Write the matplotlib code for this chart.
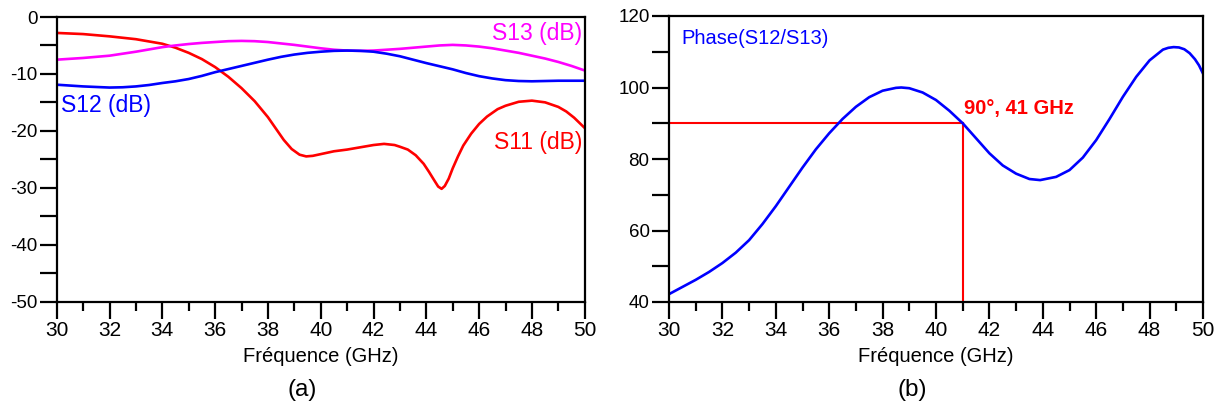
import matplotlib
matplotlib.use("Agg")
import matplotlib.pyplot as plt
from matplotlib.ticker import MultipleLocator

plt.rcParams['font.family'] = ['Liberation Sans', 'DejaVu Sans']
plt.rcParams['axes.unicode_minus'] = False

# ---- data (a) ----
f_s11 = [30, 31, 32, 33, 34, 34.5, 35, 35.5, 36, 36.5, 37, 37.5, 38, 38.3, 38.6,
         38.9, 39.2, 39.45, 39.7, 40, 40.5, 41, 41.5, 42, 42.4, 42.8, 43, 43.3,
         43.6, 43.9, 44.1, 44.3, 44.45, 44.58, 44.7, 44.85, 45.0, 45.2, 45.4, 45.7,
         46.0, 46.3, 46.7, 47.0, 47.5, 48.0, 48.5, 49.0, 49.3, 49.6, 50]
s11 = [-2.8, -3.0, -3.4, -3.9, -4.7, -5.4, -6.3, -7.4, -8.8, -10.5, -12.5, -14.8,
       -17.6, -19.6, -21.6, -23.2, -24.2, -24.5, -24.4, -24.1, -23.6, -23.3, -22.9,
       -22.5, -22.3, -22.5, -22.8, -23.3, -24.3, -25.8, -27.2, -28.7, -29.8, -30.2,
       -29.7, -28.4, -26.6, -24.5, -22.6, -20.5, -18.8, -17.5, -16.2, -15.6, -14.9,
       -14.7, -15.0, -15.8, -16.6, -17.7, -19.5]

f_s = [30, 30.5, 31, 31.5, 32, 32.5, 33, 33.5, 34, 34.5, 35, 35.5, 36, 36.5, 37,
       37.5, 38, 38.5, 39, 39.5, 40, 40.5, 41, 41.5, 42, 42.5, 43, 43.5, 44, 44.5,
       45, 45.5, 46, 46.5, 47, 47.5, 48, 48.5, 49, 49.5, 50]
s13 = [-7.5, -7.35, -7.2, -7.0, -6.8, -6.45, -6.1, -5.7, -5.3, -5.0, -4.75, -4.55,
       -4.4, -4.25, -4.2, -4.25, -4.4, -4.65, -4.9, -5.2, -5.5, -5.75, -5.9, -5.95,
       -5.9, -5.75, -5.6, -5.4, -5.2, -5.0, -4.9, -5.0, -5.2, -5.5, -5.9, -6.3,
       -6.8, -7.3, -7.9, -8.6, -9.4]
s12 = [-11.9, -12.05, -12.2, -12.3, -12.4, -12.35, -12.2, -11.95, -11.6, -11.3,
       -10.9, -10.35, -9.7, -9.15, -8.6, -8.05, -7.5, -7.0, -6.6, -6.3, -6.1, -5.95,
       -5.9, -5.95, -6.1, -6.45, -6.9, -7.5, -8.1, -8.65, -9.2, -9.85, -10.4, -10.8,
       -11.1, -11.25, -11.3, -11.25, -11.2, -11.2, -11.2]

# ---- data (b) ----
f_ph = [30, 30.5, 31, 31.5, 32, 32.5, 33, 33.5, 34, 34.5, 35, 35.5, 36, 36.5, 37,
        37.5, 38, 38.5, 38.7, 39, 39.5, 40, 40.5, 41, 41.5, 42, 42.5, 43, 43.5,
        43.9, 44.5, 45, 45.5, 46, 46.5, 47, 47.5, 48, 48.5, 48.7, 48.9, 49.1, 49.3,
        49.5, 49.7, 49.85, 50]
phase = [42.2, 44.2, 46.2, 48.4, 50.9, 53.8, 57.3, 61.8, 66.8, 72.2, 77.6, 82.7,
         87.2, 91.2, 94.6, 97.3, 99.1, 99.9, 100.0, 99.8, 98.6, 96.5, 93.5, 90.0,
         85.8, 81.6, 78.2, 75.9, 74.4, 74.1, 75.0, 76.9, 80.4, 85.3, 91.2, 97.4,
         103.0, 107.6, 110.6, 111.1, 111.3, 111.2, 110.7, 109.6, 107.9, 106.2, 103.9]
mark_f = 41
mark_ph = 90

W, H = 1218, 409
fig = plt.figure(figsize=(W / 100, H / 100), dpi=100)

axL = fig.add_axes([56.7 / W, 1 - 301.5 / H, 528 / W, 284.5 / H])
axR = fig.add_axes([669 / W, 1 - 302 / H, 534 / W, 286 / H])


def style(ax, ymin, ymax, ymaj, ymin_step):
    ax.set_xlim(30, 50)
    ax.set_ylim(ymin, ymax)
    ax.xaxis.set_major_locator(MultipleLocator(2))
    ax.xaxis.set_minor_locator(MultipleLocator(1))
    ax.yaxis.set_major_locator(MultipleLocator(ymaj))
    ax.yaxis.set_minor_locator(MultipleLocator(ymin_step))
    for s in ax.spines.values():
        s.set_linewidth(1.6)
        s.set_color('black')
    ax.tick_params(which='major', direction='out', length=12, width=1.6,
                   pad=2, colors='black')
    ax.tick_params(axis='x', which='major', labelsize=15)
    ax.tick_params(axis='y', which='major', labelsize=13.5)
    ax.tick_params(axis='x', which='minor', direction='out', length=6.5, width=1.6)
    ax.tick_params(axis='y', which='minor', direction='out', length=12, width=1.6)


style(axL, -50, 0, 10, 5)
style(axR, 40, 120, 20, 10)

lw = 1.9
axL.plot(f_s11, s11, color='#ff0000', lw=lw, solid_joinstyle='round')
axL.plot(f_s, s13, color='#ff00ff', lw=lw, solid_joinstyle='round')
axL.plot(f_s, s12, color='#0000ff', lw=lw, solid_joinstyle='round')

axL.text(49.9, -2.9, 'S13 (dB)', color='#ff00ff', fontsize=16.5, ha='right', va='center')
axL.text(30.15, -15.6, 'S12 (dB)', color='#0000ff', fontsize=16.5, ha='left', va='center')
axL.text(49.9, -22.0, 'S11 (dB)', color='#ff0000', fontsize=16.5, ha='right', va='center')

axR.plot([30, mark_f], [mark_ph, mark_ph], color='#ff0000', lw=1.5)
axR.plot([mark_f, mark_f], [40, mark_ph], color='#ff0000', lw=1.5)
axR.plot(f_ph, phase, color='#0000ff', lw=lw, solid_joinstyle='round')
axR.text(30.45, 113.7, 'Phase(S12/S13)', color='#0000ff', fontsize=14.5,
         ha='left', va='center')
axR.text(41.05, 94.1, '90°, 41 GHz', color='#ff0000', fontsize=14.5,
         fontweight='bold', ha='left', va='center')

fig.text((56.7 + 584.7) / 2 / W, 1 - 357 / H, 'Fréquence (GHz)', fontsize=14.5,
         ha='center', va='center')
fig.text((669 + 1203) / 2 / W, 1 - 357 / H, 'Fréquence (GHz)', fontsize=14.5,
         ha='center', va='center')
fig.text(302 / W, 1 - 390 / H, '(a)', fontsize=17.5, ha='center', va='center')
fig.text(912 / W, 1 - 390 / H, '(b)', fontsize=17.5, ha='center', va='center')

fig.savefig('out.png', dpi=100)
